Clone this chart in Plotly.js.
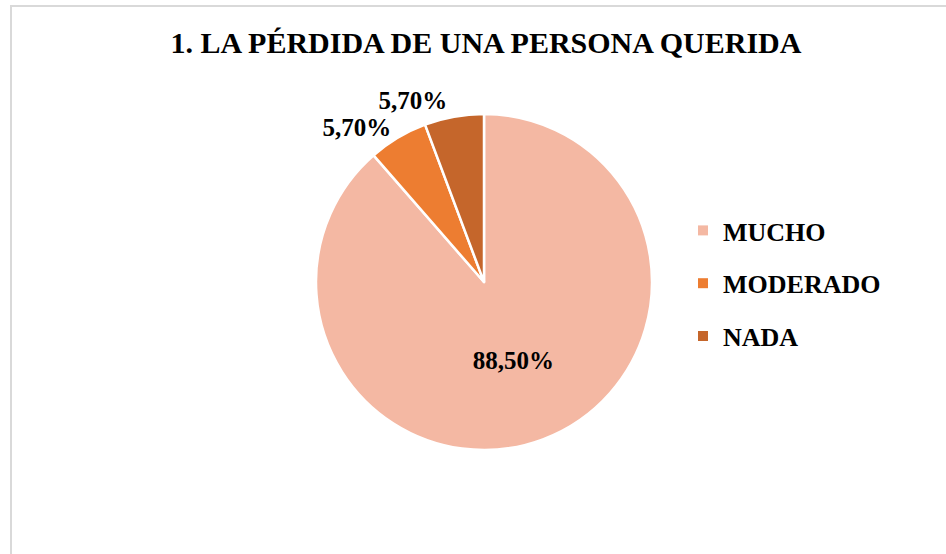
<!DOCTYPE html>
<html>
<head>
<meta charset="utf-8">
<script src="https://cdn.plot.ly/plotly-3.0.1.min.js"></script>
<style>
  html, body { margin: 0; padding: 0; background: #fff; }
  #wrap { position: relative; width: 946px; height: 554px; overflow: hidden; }
  #chart { position: absolute; left: 0; top: 0; width: 946px; height: 554px; }
  #frame { position: absolute; left: 10px; top: 5px; width: 960px; height: 560px;
           border-top: 2px solid #d9d9d9; border-left: 2px solid #d9d9d9; pointer-events: none; }
  #chart path.textline { stroke-opacity: 0 !important; }
</style>
</head>
<body>
<div id="wrap">
  <div id="chart"></div>
  <div id="frame"></div>
</div>
<script>
const chartTitle = "1. LA PÉRDIDA DE UNA PERSONA QUERIDA";
const categories = ["MUCHO", "MODERADO", "NADA"];
const values = [88.5, 5.7, 5.7];
const colors = ["#F4B8A3", "#ED7D31", "#C5662B"];
const textPositions = ["inside", "outside", "outside"];

const fontFam = "'Liberation Serif', 'Times New Roman', serif";
const labels = values.map(v => v.toFixed(2).replace('.', ',') + '%');

const W = 946, H = 554;
const cx = 484, cy = 282, r = 168;

const pie = {
  type: 'pie',
  labels: categories,
  values: values,
  text: labels,
  textinfo: 'text',
  textposition: textPositions,
  sort: false,
  direction: 'clockwise',
  rotation: 0,
  insidetextorientation: 'horizontal',
  marker: { colors: colors, line: { color: '#ffffff', width: 2.5 } },
  textfont: { family: fontFam, size: 25, color: '#000000', weight: 'bold' },
  showlegend: false,
  hoverinfo: 'label+text',
  domain: { x: [(cx - r) / W, (cx + r) / W], y: [1 - (cy + r) / H, 1 - (cy - r) / H] }
};

const legendTraces = categories.map((c, i) => ({
  type: 'scatter',
  mode: 'markers',
  x: [null], y: [null],
  name: c,
  legendgroup: c,
  marker: { symbol: 'square', size: 10, color: colors[i] },
  showlegend: true,
  hoverinfo: 'skip'
}));

const layout = {
  width: W, height: H,
  margin: { l: 0, r: 0, t: 0, b: 0 },
  paper_bgcolor: '#ffffff',
  plot_bgcolor: '#ffffff',
  title: {
    text: '<b>' + chartTitle + '</b>',
    font: { family: fontFam, size: 30, color: '#000000' },
    x: 486 / W, xanchor: 'center',
    y: 1 - 42 / H, yanchor: 'middle', yref: 'paper'
  },
  xaxis: { visible: false },
  yaxis: { visible: false },
  showlegend: true,
  legend: {
    x: 683 / W, xanchor: 'left',
    y: 1 - 207 / H, yanchor: 'top',
    font: { family: fontFam, size: 26, color: '#000000', weight: 'bold' },
    tracegroupgap: 16,
    traceorder: 'grouped',
    bgcolor: 'rgba(0,0,0,0)'
  }
};

Plotly.newPlot('chart', [pie].concat(legendTraces), layout, { displayModeBar: false, staticPlot: true });
</script>
</body>
</html>
